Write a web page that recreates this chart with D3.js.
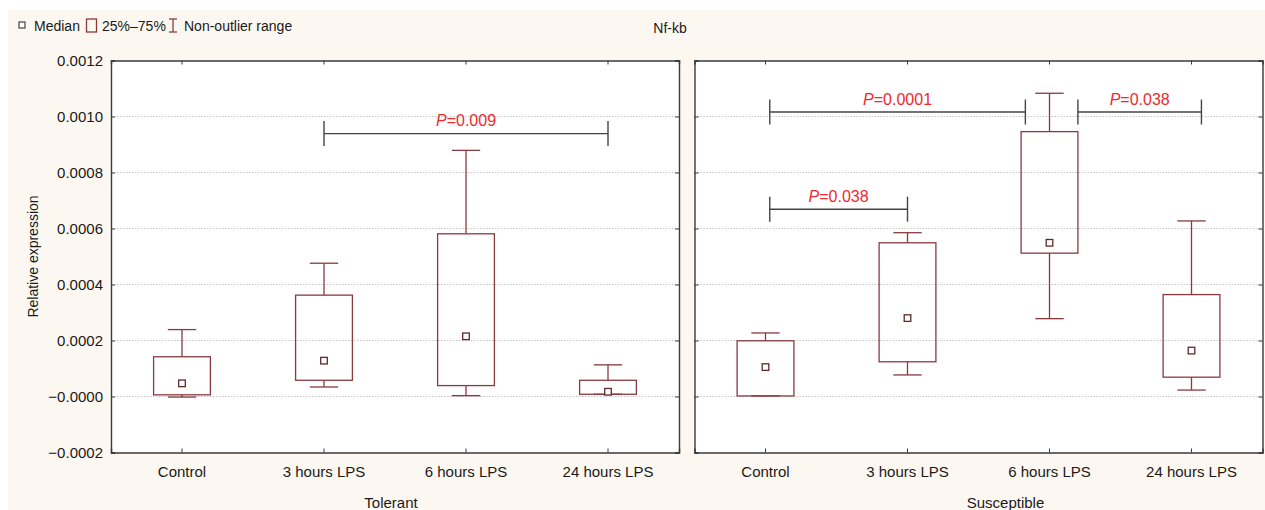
<!DOCTYPE html>
<html>
<head>
<meta charset="utf-8">
<script src="https://cdn.jsdelivr.net/npm/d3@7/dist/d3.min.js"></script>
<style>
  html, body { margin: 0; padding: 0; background: #ffffff; }
  svg { display: block; font-family: "Liberation Sans", Arial, sans-serif; }
</style>
</head>
<body>
<svg id="chart" width="1265" height="510"></svg>
<script>
// ---------------- DATA ----------------
const categories = ["Control", "3 hours LPS", "6 hours LPS", "24 hours LPS"];
const groups = ["Tolerant", "Susceptible"];
const yTicks = [-0.0002, 0, 0.0002, 0.0004, 0.0006, 0.0008, 0.0010, 0.0012];
const yTickLabels = ["\u22120.0002", "\u22120.0000", "0.0002", "0.0004", "0.0006", "0.0008", "0.0010", "0.0012"];

// Tolerant
const tolerantLow    = [-0.000002, 0.000034, 0.000003, 0.000008];
const tolerantQ1     = [ 0.000006, 0.000058, 0.000039, 0.000008];
const tolerantMedian = [ 0.000047, 0.000128, 0.000215, 0.000017];
const tolerantQ3     = [ 0.000142, 0.000362, 0.000581, 0.000058];
const tolerantHigh   = [ 0.000239, 0.000476, 0.000879, 0.000113];

// Susceptible
const susceptibleLow    = [0.000002, 0.000077, 0.000278, 0.000023];
const susceptibleQ1     = [0.000002, 0.000124, 0.000512, 0.000069];
const susceptibleMedian = [0.000105, 0.000280, 0.000549, 0.000164];
const susceptibleQ3     = [0.000199, 0.000549, 0.000946, 0.000364];
const susceptibleHigh   = [0.000227, 0.000585, 0.001083, 0.000627];

// significance brackets: panel, from / to (category index positions), y level, p value
const bracketPanel = [0, 1, 1, 1];
const bracketFrom  = [1, 0.03, 2.2, 0.03];
const bracketTo    = [3, 1.83, 3.07, 1.0];
const bracketY     = [0.000939, 0.001016, 0.001016, 0.000669];
const bracketP     = ["0.009", "0.0001", "0.038", "0.038"];

const chartTitle = "Nf-kb";
const yAxisTitle = "Relative expression";
const legendLabels = ["Median", "25%\u201375%", "Non-outlier range"];

// ---------------- LAYOUT ----------------
const svg = d3.select("#chart");
const boxColor = "#8a3a3e";
const medianColor = "#5e2a2a";
const axisColor = "#3a3a3a";
const pColor = "#ec2a2e";

// background
svg.append("rect").attr("x", 0).attr("y", 0).attr("width", 1265).attr("height", 510).attr("fill", "#ffffff");
svg.append("rect").attr("x", 8).attr("y", 10).attr("width", 1257).attr("height", 500).attr("fill", "#fcf8f1");

const plotTop = 60.5, plotBottom = 452.5;
const panelX = [[111, 679], [694.5, 1262.5]];

const y = d3.scaleLinear().domain([-0.0002, 0.0012]).range([plotBottom, plotTop]);

const panelData = [
  {low: tolerantLow, q1: tolerantQ1, med: tolerantMedian, q3: tolerantQ3, high: tolerantHigh},
  {low: susceptibleLow, q1: susceptibleQ1, med: susceptibleMedian, q3: susceptibleQ3, high: susceptibleHigh}
];

panelX.forEach((px, pi) => {
  const x = d3.scaleBand().domain(categories).range(px).paddingInner(0).paddingOuter(0);
  const xi = d3.scaleLinear().domain([0, 3]).range([x(categories[0]) + x.bandwidth() / 2, x(categories[3]) + x.bandwidth() / 2]);
  const g = svg.append("g");

  // plot area
  g.append("rect").attr("x", px[0]).attr("y", plotTop).attr("width", px[1] - px[0]).attr("height", plotBottom - plotTop).attr("fill", "#ffffff");

  // grid
  g.selectAll(".grid").data(yTicks.slice(1, -1)).enter().append("line")
    .attr("x1", px[0]).attr("x2", px[1])
    .attr("y1", d => y(d)).attr("y2", d => y(d))
    .attr("stroke", "#c4c4c4").attr("stroke-width", 1).attr("stroke-dasharray", "1.5,1.5");

  // axes (inward ticks on all four sides)
  const left = d3.axisLeft(y).tickValues(yTicks).tickSize(-4).tickFormat((d, i) => pi === 0 ? yTickLabels[i] : "");
  const right = d3.axisRight(y).tickValues(yTicks).tickSize(-4).tickFormat("");
  const bottomAx = d3.axisBottom(x).tickSize(-4).tickFormat("");
  const topAx = d3.axisTop(x).tickSize(-4).tickFormat("");

  const gl = g.append("g").attr("transform", `translate(${px[0]},0)`).call(left);
  const gr = g.append("g").attr("transform", `translate(${px[1]},0)`).call(right);
  const gb = g.append("g").attr("transform", `translate(0,${plotBottom})`).call(bottomAx);
  const gt = g.append("g").attr("transform", `translate(0,${plotTop})`).call(topAx);
  [gl, gr, gb, gt].forEach(a => {
    a.select(".domain").attr("stroke", axisColor).attr("stroke-width", 1.4);
    a.selectAll(".tick line").attr("stroke", axisColor).attr("stroke-width", 1);
  });
  gl.selectAll(".tick text").attr("x", -8).attr("font-size", 15).attr("fill", "#1a1a1a")
    .attr("font-family", "Liberation Sans, Arial, sans-serif");

  // category labels
  g.selectAll(".cat").data(categories).enter().append("text")
    .attr("x", d => x(d) + x.bandwidth() / 2).attr("y", 477)
    .attr("text-anchor", "middle").attr("font-size", 15).attr("fill", "#1a1a1a").text(d => d);

  // group label
  g.append("text").attr("x", pi === 0 ? (px[0] + px[1]) / 2 - 4 : (px[0] + px[1]) / 2 + 27).attr("y", 508)
    .attr("text-anchor", "middle").attr("font-size", 15).attr("fill", "#1a1a1a").text(groups[pi]);

  // boxes
  const D = panelData[pi];
  const bw = x.bandwidth() * 0.4;
  const cw = x.bandwidth() * 0.2;
  categories.forEach((c, i) => {
    const cx = x(c) + x.bandwidth() / 2;
    // whiskers
    g.append("line").attr("x1", cx).attr("x2", cx).attr("y1", y(D.high[i])).attr("y2", y(D.q3[i]))
      .attr("stroke", boxColor).attr("stroke-width", 1.3);
    g.append("line").attr("x1", cx).attr("x2", cx).attr("y1", y(D.q1[i])).attr("y2", y(D.low[i]))
      .attr("stroke", boxColor).attr("stroke-width", 1.3);
    g.append("line").attr("x1", cx - cw / 2).attr("x2", cx + cw / 2).attr("y1", y(D.high[i])).attr("y2", y(D.high[i]))
      .attr("stroke", boxColor).attr("stroke-width", 1.3);
    g.append("line").attr("x1", cx - cw / 2).attr("x2", cx + cw / 2).attr("y1", y(D.low[i])).attr("y2", y(D.low[i]))
      .attr("stroke", boxColor).attr("stroke-width", 1.3);
    // box
    g.append("rect").attr("x", cx - bw / 2).attr("width", bw)
      .attr("y", y(D.q3[i])).attr("height", y(D.q1[i]) - y(D.q3[i]))
      .attr("fill", "none").attr("stroke", boxColor).attr("stroke-width", 1.3);
    // median
    g.append("rect").attr("x", cx - 3.3).attr("y", y(D.med[i]) - 3.3).attr("width", 6.6).attr("height", 6.6)
      .attr("fill", "#ffffff").attr("stroke", medianColor).attr("stroke-width", 1.3);
  });

  // brackets
  bracketPanel.forEach((bp, k) => {
    if (bp !== pi) return;
    const x1 = xi(bracketFrom[k]), x2 = xi(bracketTo[k]), yy = y(bracketY[k]);
    const bg = g.append("g");
    bg.append("line").attr("x1", x1).attr("x2", x2).attr("y1", yy).attr("y2", yy).attr("stroke", "#444").attr("stroke-width", 1.4);
    [x1, x2].forEach(xx => bg.append("line").attr("x1", xx).attr("x2", xx).attr("y1", yy - 12.5).attr("y2", yy + 12.5)
      .attr("stroke", "#444").attr("stroke-width", 1.4));
    const t = bg.append("text").attr("x", (x1 + x2) / 2).attr("y", yy - 7.5).attr("text-anchor", "middle")
      .attr("font-size", 16).attr("fill", pColor);
    t.append("tspan").attr("font-style", "italic").text("P");
    t.append("tspan").text("=" + bracketP[k]);
  });
});

// y axis title
svg.append("text").attr("transform", `translate(38,${(plotTop + plotBottom) / 2}) rotate(-90)`)
  .attr("text-anchor", "middle").attr("font-size", 14).attr("fill", "#1a1a1a").text(yAxisTitle);

// chart title
svg.append("text").attr("x", 670).attr("y", 33).attr("text-anchor", "middle")
  .attr("font-size", 14).attr("fill", "#1a1a1a").text(chartTitle);

// legend
const lg = svg.append("g");
lg.append("rect").attr("x", 19).attr("y", 22).attr("width", 6).attr("height", 6)
  .attr("fill", "#fff").attr("stroke", "#333").attr("stroke-width", 1.1);
lg.append("text").attr("x", 34).attr("y", 31).attr("font-size", 14).attr("fill", "#1a1a1a").text(legendLabels[0]);
lg.append("rect").attr("x", 86.5).attr("y", 19).attr("width", 10).attr("height", 13)
  .attr("fill", "none").attr("stroke", boxColor).attr("stroke-width", 1.3);
lg.append("text").attr("x", 102).attr("y", 31).attr("font-size", 14).attr("fill", "#1a1a1a").text(legendLabels[1]);
lg.append("line").attr("x1", 173).attr("x2", 173).attr("y1", 19).attr("y2", 32).attr("stroke", boxColor).attr("stroke-width", 1.3);
lg.append("line").attr("x1", 169).attr("x2", 177).attr("y1", 19).attr("y2", 19).attr("stroke", boxColor).attr("stroke-width", 1.3);
lg.append("line").attr("x1", 169).attr("x2", 177).attr("y1", 32).attr("y2", 32).attr("stroke", boxColor).attr("stroke-width", 1.3);
lg.append("text").attr("x", 184).attr("y", 31).attr("font-size", 14).attr("fill", "#1a1a1a").text(legendLabels[2]);
</script>
</body>
</html>
